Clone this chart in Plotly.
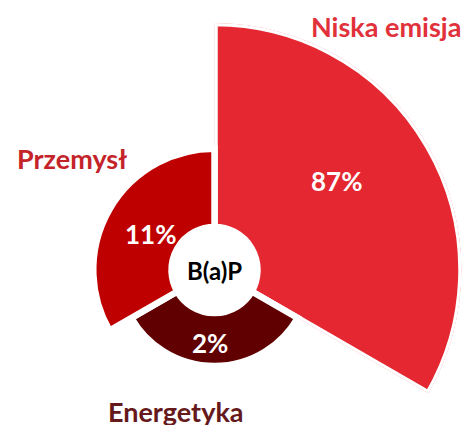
import numpy as np
import plotly.graph_objects as go

# ---- data ----
categories = ["Niska emisja", "Energetyka", "Przemysł"]
values = [87, 2, 11]
value_labels = ["87%", "2%", "11%"]
center_label = "B(a)P"

# ---- style ----
colors = ["#e52732", "#600000", "#bf0000"]
label_colors = ["#e1313b", "#66191b", "#c42429"]
R_MIN, R_MAX = 96.0, 247.0   # outer radius (px) for min / max value (area sizing)
R_IN = 43.0                  # inner radius (px)
R_SMALL = 130.0              # radius (px) of the disk holding the small slices
CX, CY = 214.5, 270.0        # centre in px (from top-left)
W, H = 464, 425
GAP = 6.5

v = np.array(values, dtype=float)
pos = (v - v.min()) / (v.max() - v.min())
outer = np.sqrt(R_MIN**2 + pos * (R_MAX**2 - R_MIN**2))

n = len(values)
width = 360.0 / n
theta = [i * width + width / 2 for i in range(n)]

big = int(np.argmax(v))
small = [i for i in range(n) if i != big]

fig = go.Figure()
# largest slice in its own sector-shaped subplot (so it can exceed the small disk)
fig.add_trace(go.Barpolar(
    r=[outer[big] - R_IN], base=[R_IN], theta=[theta[big]], width=[width],
    marker=dict(color=colors[big], line=dict(color="white", width=GAP)),
    hoverinfo="skip", showlegend=False, subplot="polar",
))
fig.add_trace(go.Barpolar(
    r=[outer[i] - R_IN for i in small], base=[R_IN] * len(small),
    theta=[theta[i] for i in small], width=[width] * len(small),
    marker=dict(color=[colors[i] for i in small], line=dict(color="white", width=GAP)),
    hoverinfo="skip", showlegend=False, subplot="polar2",
))

# polar 1: sector from -30 deg to 90 deg (screen angles) -> bbox w=R, h=1.5R
Rb = R_MAX
p1x = [CX / W, (CX + Rb) / W]
p1y = [(H - (CY + 0.5 * Rb)) / H, (H - (CY - Rb)) / H]
p2x = [(CX - R_SMALL) / W, (CX + R_SMALL) / W]
p2y = [(H - CY - R_SMALL) / H, (H - CY + R_SMALL) / H]

common_ang = dict(visible=False, rotation=90, direction="clockwise")
fig.update_layout(
    width=W, height=H,
    margin=dict(l=0, r=0, t=0, b=0),
    paper_bgcolor="white",
    plot_bgcolor="white",
    polar=dict(
        domain=dict(x=p1x, y=p1y), sector=[-30, 90],
        bgcolor="rgba(0,0,0,0)",
        radialaxis=dict(range=[0, Rb], visible=False),
        angularaxis=common_ang, bargap=0,
    ),
    polar2=dict(
        domain=dict(x=p2x, y=p2y),
        bgcolor="rgba(0,0,0,0)",
        radialaxis=dict(range=[0, R_SMALL], visible=False),
        angularaxis=common_ang, bargap=0,
    ),
)

# value labels inside slices
value_pos = {"Niska emisja": (336, 181), "Energetyka": (210, 343), "Przemysł": (150, 234)}
for cat, lab in zip(categories, value_labels):
    px, py = value_pos[cat]
    fig.add_annotation(
        x=px / W, y=1 - py / H, xref="paper", yref="paper",
        text=f"<b>{lab}</b>", showarrow=False,
        font=dict(family="Lato", size=26, color="white"),
        xanchor="center", yanchor="middle",
    )

# centre label
fig.add_annotation(
    x=CX / W, y=1 - CY / H, xref="paper", yref="paper",
    text=f"<b>{center_label}</b>", showarrow=False,
    font=dict(family="Lato", size=24, color="black"),
    xanchor="center", yanchor="middle",
)

# outer category labels
label_pos = {"Niska emisja": (386, 27), "Energetyka": (176, 411), "Przemysł": (72, 158)}
for cat, col in zip(categories, label_colors):
    px, py = label_pos[cat]
    fig.add_annotation(
        x=px / W, y=1 - py / H, xref="paper", yref="paper",
        text=f"<b>{cat}</b>", showarrow=False,
        font=dict(family="Lato", size=27, color=col),
        xanchor="center", yanchor="middle",
    )

fig.write_html(
    "out.html",
    config={"displayModeBar": False},
    post_script="document.body.style.margin='0';document.body.style.overflow='hidden';",
)
